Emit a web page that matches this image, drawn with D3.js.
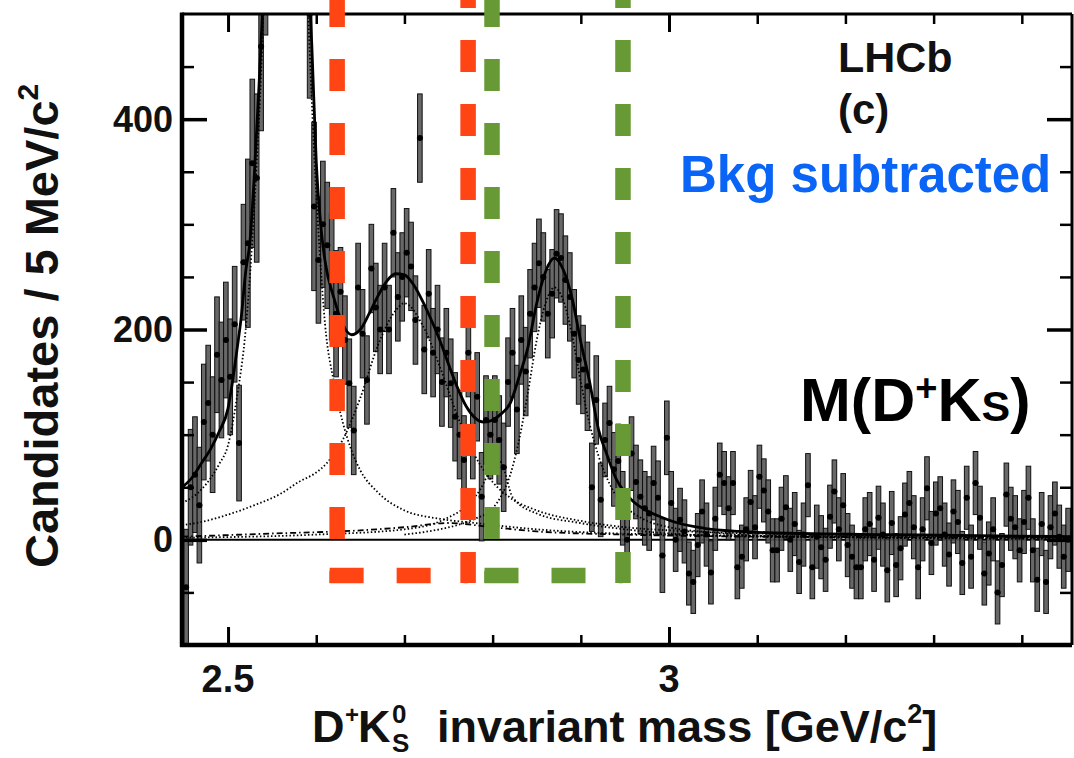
<!DOCTYPE html>
<html><head><meta charset="utf-8">
<script src="https://cdn.jsdelivr.net/npm/d3@7"></script>
<style>
html,body{margin:0;padding:0;background:#fff;}
svg{display:block;font-family:"Liberation Sans",Arial,Helvetica,sans-serif;font-weight:bold;}
</style></head><body>
<svg id="chart" width="1074" height="758"></svg>
<script>
// ---------------- data ----------------
const binLow = 2.45, binWidth = 0.005;   // GeV/c^2 histogram binning
const counts = [
 -45,50,62,33,112,130,100,176,152,190,
 155,205,92,264,282,358,344,469,560,700,
 880,1050,1150,1180,1100,950,780,620,500,317,
 266,300,280,250,215,236,190,149,104,240,
 196,152,258,221,200,240,200,292,231,250,
 273,260,209,382,181,234,178,200,150,178,
 149,117,100,76,178,100,136,41,114,100,
 114,95,69,150,178,124,190,160,215,240,
 263,250,215,234,272,268,247,231,196,171,
 162,146,50,133,38,95,111,67,75,30,
 0,82,55,41,30,25,54,40,-15,97,
 35,0,19,8,-32,-40,-5,27,5,-31,
 20,62,54,30,54,-26,-16,10,36,12,
 60,47,27,-10,-10,20,31,0,15,-21,
 5,52,-26,3,-7,-19,22,46,10,33,
 -5,-16,-26,-26,10,15,-19,21,5,-29,
 16,-24,-8,24,35,12,-26,10,49,-3,
 25,30,5,-14,27,17,-22,40,-16,54,
 21,-32,-13,10,-50,-24,43,20,12,-10,
 17,40,-10,-38,15,-40,12,25,3,-16,
 0
];
// error size per mass band (upper edge of band, error)
const errEdges = [2.52, 2.60, 2.625, 2.92, 3.00, 3.46];
const errSizes = [55, 80, 60, 42, 35, 30];

// fit curves
const totalMass = [2.448,2.46,2.47,2.48,2.49,2.50,2.505,2.51,2.515,2.52,2.525,2.53,2.535,2.54,2.55,2.565,2.58,2.59,2.595,2.60,2.605,2.61,2.62,2.63,2.64,2.65,2.66,2.67,2.68,2.69,2.70,2.71,2.72,2.73,2.74,2.75,2.76,2.77,2.78,2.79,2.80,2.81,2.82,2.83,2.84,2.85,2.86,2.87,2.88,2.89,2.90,2.91,2.92,2.93,2.94,2.95,2.96,2.97,2.99,3.01,3.04,3.08,3.15,3.25,3.35,3.457];
const totalVal  = [50,60,73,86,103,125,150,180,212,255,285,350,430,520,800,1300,800,560,470,360,300,265,230,205,195,200,215,232,246,253,252,243,228,210,190,167,145,127,116,112,114,120,130,155,183,225,255,268,257,230,188,150,105,80,58,45,36,30,22,16,11,8,6,5,4,3];

const ds2Mass = [2.448,2.47,2.49,2.50,2.51,2.52,2.53,2.54,2.55,2.565,2.58,2.59,2.60,2.605,2.61,2.62,2.63,2.64,2.65,2.67,2.70,2.74,2.78,2.85,3.0,3.457];
const ds2Val  = [35,48,72,90,135,200,320,500,800,1250,780,520,330,260,205,150,112,85,66,45,28,20,16,10,5,2];

const ds1Mass = [2.448,2.47,2.50,2.53,2.56,2.58,2.60,2.612,2.63,2.65,2.67,2.69,2.70,2.72,2.74,2.76,2.78,2.80,2.82,2.85,2.90,2.95,3.0,3.1,3.457];
const ds1Val  = [14,17,24,33,44,55,64,73,95,135,185,218,225,205,165,118,80,55,40,28,18,12,9,6,3];

const dsjMass = [2.70,2.74,2.76,2.78,2.80,2.81,2.82,2.83,2.84,2.85,2.86,2.87,2.88,2.89,2.90,2.91,2.92,2.93,2.94,2.95,2.97,3.0,3.05,3.1,3.457];
const dsjVal  = [5,10,14,20,30,42,62,95,140,190,225,240,228,195,150,110,80,58,42,32,20,12,7,4,1];

const feedMass = [2.448,2.60,2.70,2.744,2.786,2.80,2.808,2.823,2.85,2.899,2.95,3.0,3.1,3.457];
const feedVal  = [2,5,10,19,48,70,75,40,25,16,10,6,3,1];

const bkgMass = [2.448,2.55,2.65,2.70,2.75,2.80,2.85,2.95,3.1,3.457];
const bkgVal  = [3,6,9,12,16,12,8,5,3,2];

const yTickMajor = [0, 200, 400];
const yTickMinor = [-50, 50, 100, 150, 250, 300, 350, 450];
const xTickMajor = [2.5, 3.0];
const xTickMinor = [2.6, 2.7, 2.8, 2.9, 3.1, 3.2, 3.3, 3.4];
const yTickLabels = ["0", "200", "400"];
const xTickLabels = ["2.5", "3"];

// annotation windows (mass ranges) and box bottom (candidates)
const redWindow = [2.6237, 2.7722];
const greenWindow = [2.7993, 2.9478];
const windowBottom = -34;

// ---------------- drawing ----------------
const svg = d3.select("#chart");
const L = 182, R = 1072, T = 14, B = 645;
const x = d3.scaleLinear().domain([2.4478, 3.4569]).range([L, R]);
const y = d3.scaleLinear().domain([-100, 500]).range([B, T]);

svg.append("defs").append("clipPath").attr("id", "pc")
  .append("rect").attr("x", L).attr("y", T).attr("width", R - L).attr("height", B - T);

const plot = svg.append("g").attr("clip-path", "url(#pc)");

// zero line
plot.append("line").attr("x1", L).attr("x2", R).attr("y1", y(0)).attr("y2", y(0))
  .attr("stroke", "#000").attr("stroke-width", 2);

function errFor(m) {
  for (let k = 0; k < errEdges.length; k++) if (m <= errEdges[k]) return errSizes[k];
  return errSizes[errSizes.length - 1];
}
const pts = counts.map((v, i) => {
  const m = binLow + binWidth * (i + 0.5);
  return {m, v, e: errFor(m)};
});

// error bars
const eb = plot.append("g");
eb.selectAll("rect.err").data(pts).join("rect")
  .attr("x", d => x(d.m) - 2.3).attr("width", 4.6)
  .attr("y", d => y(d.v + d.e)).attr("height", d => y(d.v - d.e) - y(d.v + d.e))
  .attr("fill", "#585858").attr("fill-opacity", 0.9)
  .attr("stroke", "#111").attr("stroke-width", 1);
eb.selectAll("line.hb").data(pts).join("line")
  .attr("x1", d => x(d.m - binWidth / 2) - 0.5).attr("x2", d => x(d.m + binWidth / 2) + 0.5)
  .attr("y1", d => y(d.v)).attr("y2", d => y(d.v))
  .attr("stroke", "#000").attr("stroke-width", 2.2);
eb.selectAll("circle").data(pts).join("circle")
  .attr("cx", d => x(d.m)).attr("cy", d => y(d.v)).attr("r", 3).attr("fill", "#000");

// curves
function curve(ms, vs, opts) {
  const line = d3.line().x(d => x(d[0])).y(d => y(d[1])).curve(d3.curveMonotoneX);
  plot.append("path").datum(ms.map((m, i) => [m, vs[i]]))
    .attr("d", line).attr("fill", "none").attr("stroke", "#000")
    .attr("stroke-width", opts.w).attr("stroke-dasharray", opts.dash || null);
}
curve(bkgMass, bkgVal, {w: 1.8, dash: "6,3,1.5,3"});
curve(ds2Mass, ds2Val, {w: 1.8, dash: "1.5,2.2"});
curve(ds1Mass, ds1Val, {w: 1.8, dash: "1.5,2.2"});
curve(dsjMass, dsjVal, {w: 1.8, dash: "1.5,2.2"});
curve(feedMass, feedVal, {w: 1.8, dash: "1.5,2.2"});
curve(totalMass, totalVal, {w: 2.8});

// axes (ticks inside)
function axisG(gen, tr) {
  const g = svg.append("g").attr("transform", tr).call(gen);
  g.select(".domain").remove();
  g.selectAll(".tick line").attr("stroke", "#000");
  g.selectAll(".tick text").remove();
  return g;
}
axisG(d3.axisLeft(y).tickValues(yTickMajor).tickSize(-25), `translate(${L},0)`).selectAll("line").attr("stroke-width", 3.5);
axisG(d3.axisLeft(y).tickValues(yTickMinor).tickSize(-12), `translate(${L},0)`).selectAll("line").attr("stroke-width", 2.5);
axisG(d3.axisRight(y).tickValues(yTickMajor).tickSize(-25), `translate(${R},0)`).selectAll("line").attr("stroke-width", 3.5);
axisG(d3.axisRight(y).tickValues(yTickMinor).tickSize(-12), `translate(${R},0)`).selectAll("line").attr("stroke-width", 2.5);
axisG(d3.axisBottom(x).tickValues(xTickMajor).tickSize(-18), `translate(0,${B})`).selectAll("line").attr("stroke-width", 3);
axisG(d3.axisBottom(x).tickValues(xTickMinor).tickSize(-10), `translate(0,${B})`).selectAll("line").attr("stroke-width", 2.5);
axisG(d3.axisTop(x).tickValues(xTickMajor).tickSize(-18), `translate(0,${T})`).selectAll("line").attr("stroke-width", 3);
axisG(d3.axisTop(x).tickValues(xTickMinor).tickSize(-10), `translate(0,${T})`).selectAll("line").attr("stroke-width", 2.5);

// frame
svg.append("line").attr("x1", L).attr("x2", R).attr("y1", T).attr("y2", T).attr("stroke", "#000").attr("stroke-width", 3);
svg.append("line").attr("x1", R).attr("x2", R).attr("y1", T).attr("y2", B).attr("stroke", "#000").attr("stroke-width", 3);
svg.append("line").attr("x1", L).attr("x2", L).attr("y1", T - 1.5).attr("y2", B + 2).attr("stroke", "#000").attr("stroke-width", 4.5);
svg.append("line").attr("x1", L - 2).attr("x2", R).attr("y1", B).attr("y2", B).attr("stroke", "#000").attr("stroke-width", 4.5);

// tick labels
svg.selectAll("text.yl").data(yTickMajor).join("text")
  .attr("x", 173).attr("y", d => y(d) + 12.5).attr("text-anchor", "end")
  .attr("font-size", 36).attr("fill", "#111").text((d, i) => yTickLabels[i]);
svg.selectAll("text.xl").data(xTickMajor).join("text")
  .attr("x", d => x(d)).attr("y", 692).attr("text-anchor", "middle")
  .attr("font-size", 38).attr("fill", "#111").text((d, i) => xTickLabels[i]);

// axis titles
const yt = svg.append("text").attr("transform", "translate(58,568) rotate(-90)")
  .attr("font-size", 47).attr("fill", "#111");
yt.append("tspan").text("Candidates / 5 MeV/c");
yt.append("tspan").attr("font-size", 30).attr("dy", -20).text("2");

// x title as one text element with positioned tspans
const xt = svg.append("text").attr("x", 312).attr("y", 742).attr("font-size", 45).attr("fill", "#111");
xt.append("tspan").text("D");
xt.append("tspan").attr("x", 345).attr("font-size", 24).attr("dy", -19).text("+");
xt.append("tspan").attr("x", 358).attr("dy", 19).text("K");
xt.append("tspan").attr("x", 392).attr("font-size", 26).attr("dy", -19).text("0");
xt.append("tspan").attr("x", 392).attr("font-size", 26).attr("dy", 29).text("S");
xt.append("tspan").attr("x", 437).attr("dy", -10).text("invariant mass [GeV/c");
xt.append("tspan").attr("font-size", 27).attr("dy", -19).text("2");
xt.append("tspan").attr("dy", 19).text("]");

// in-plot labels
svg.append("text").attr("x", 838).attr("y", 72).attr("font-size", 43).attr("fill", "#111").text("LHCb");
svg.append("text").attr("x", 838).attr("y", 124).attr("font-size", 42).attr("fill", "#111").text("(c)");
svg.append("text").attr("x", 680).attr("y", 192).attr("font-size", 51).attr("fill", "#0a64f5").text("Bkg subtracted");
const mt = svg.append("text").attr("x", 800).attr("y", 421).attr("font-size", 61).attr("fill", "#000");
mt.append("tspan").text("M(D");
mt.append("tspan").attr("font-size", 38).attr("dy", -20).text("+");
mt.append("tspan").attr("dy", 20).text("K");
mt.append("tspan").attr("font-size", 43).text("S");
mt.append("tspan").text(")");

// dashed windows
function dashedBox(win, color) {
  const g = svg.append("g").attr("stroke", color).attr("stroke-width", 15.5).attr("fill", "none");
  const x0 = x(win[0]), x1 = x(win[1]), yb = y(windowBottom);
  g.append("line").attr("x1", x0).attr("x2", x0).attr("y1", -5).attr("y2", yb + 7.5).attr("stroke-dasharray", "32,32");
  g.append("line").attr("x1", x1).attr("x2", x1).attr("y1", -24).attr("y2", yb + 7.5).attr("stroke-dasharray", "32,32");
  g.append("line").attr("x1", x0 - 7.5).attr("x2", x1).attr("y1", yb).attr("y2", yb).attr("stroke-dasharray", "34,33");
}
dashedBox(redWindow, "#ff4513");
dashedBox(greenWindow, "#679a35");
</script>
</body></html>
